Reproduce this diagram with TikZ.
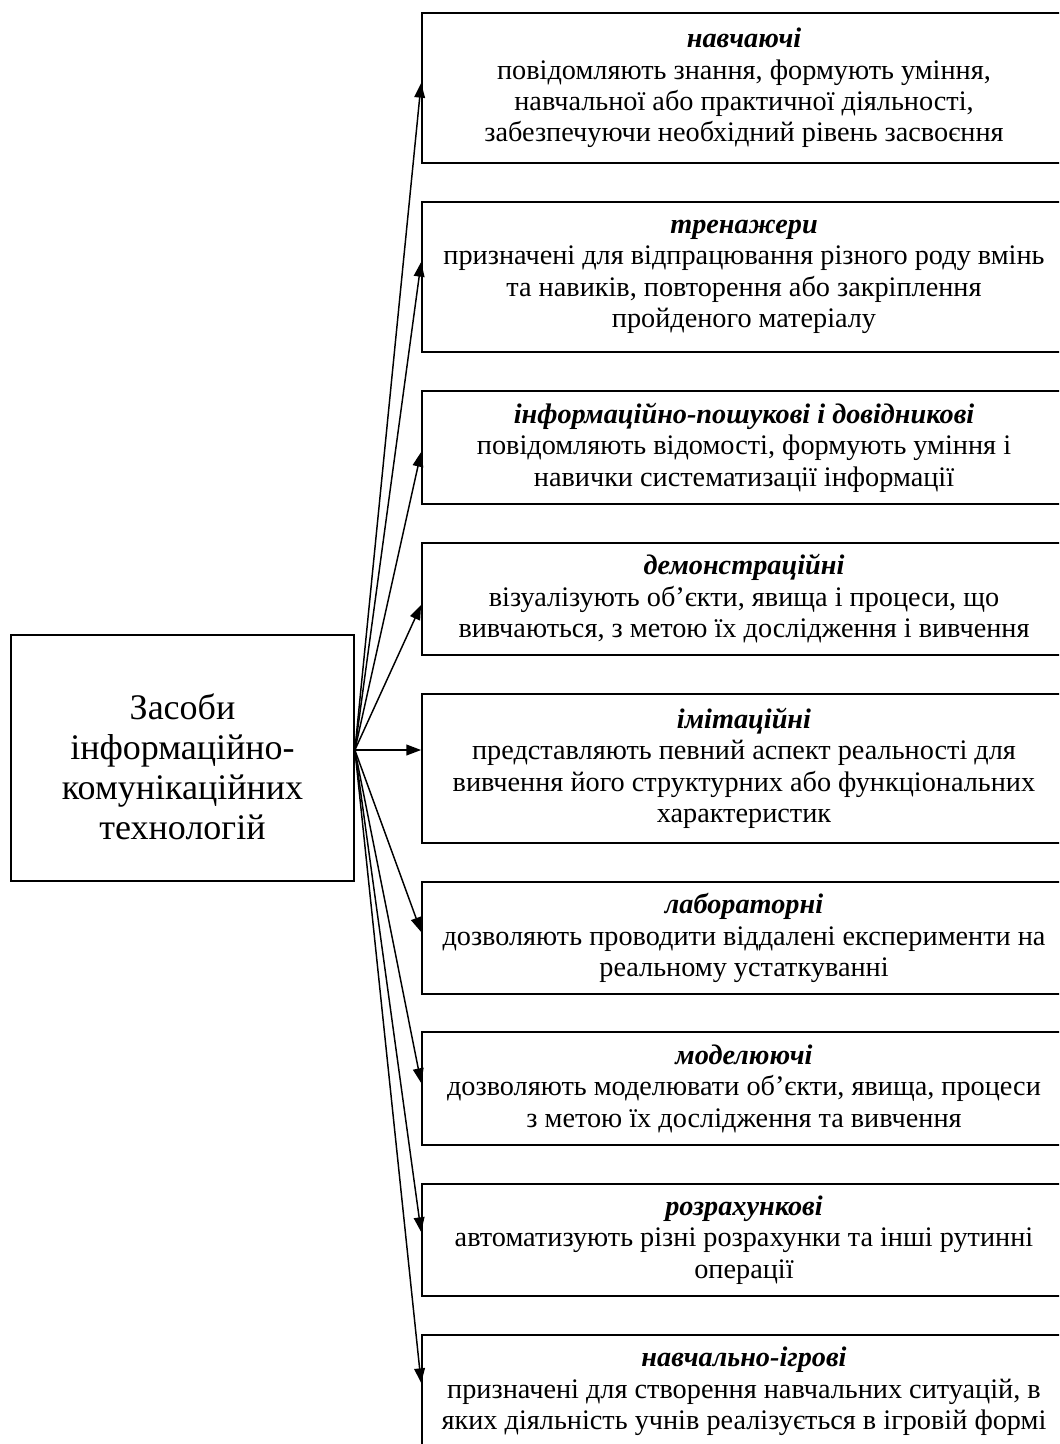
\documentclass[tikz,border=0pt]{standalone}
\usepackage{fontspec}
\setmainfont{Liberation Serif}
\usetikzlibrary{arrows.meta}
\begin{document}
\begin{tikzpicture}[x=0.75pt,y=-0.75pt,
  rbox/.style={draw, line width=1.3pt, minimum width=483pt, align=center, inner sep=0pt, font=\fontsize{21.2}{23.6}\selectfont},
  lbox/.style={draw, line width=1.3pt, minimum width=257.25pt, minimum height=184.5pt, inner sep=0pt},
  ltext/.style={align=center, inner sep=0pt, font=\fontsize{27}{30}\selectfont},
  conn/.style={-{Triangle[length=11pt,width=8pt]}, line width=1.1pt}]
\newcommand{\ttlx}[1]{{\bfseries\itshape #1}}
\useasboundingbox (0,0) rectangle (1059,1444);
\begin{scope}
\clip (0,0) rectangle (1059,1444);
\node[lbox] (L) at (182.5,758) {};
\node[ltext] (Lt) at (182.5,767) {Засоби\\інформаційно-\\комунікаційних\\технологій};
\node[rbox, minimum height=112.5pt] (b1) at (744,88) {\ttlx{навчаючі}\\повідомляють знання, формують уміння,\\навчальної або практичної діяльності,\\забезпечуючи необхідний рівень засвоєння};
\node[rbox, minimum height=112.5pt] (b2) at (744,277) {\ttlx{тренажери}\\призначені для відпрацювання різного роду вмінь\\та навиків, повторення або закріплення\\пройденого матеріалу};
\node[rbox, minimum height=84.75pt] (b3) at (744,447.5) {\ttlx{інформаційно-пошукові і довідникові}\\повідомляють відомості, формують уміння і\\навички систематизації інформації};
\node[rbox, minimum height=84pt] (b4) at (744,599) {\ttlx{демонстраційні}\\візуалізують об’єкти, явища і процеси, що\\вивчаються, з метою їх дослідження і вивчення};
\node[rbox, minimum height=111.75pt] (b5) at (744,768.5) {\ttlx{імітаційні}\\представляють певний аспект реальності для\\вивчення його структурних або функціональних\\характеристик};
\node[rbox, minimum height=84pt] (b6) at (744,938) {\ttlx{лабораторні}\\дозволяють проводити віддалені експерименти на\\реальному устаткуванні};
\node[rbox, minimum height=84.75pt] (b7) at (744,1088.5) {\ttlx{моделюючі}\\дозволяють моделювати об’єкти, явища, процеси\\з метою їх дослідження та вивчення};
\node[rbox, minimum height=84pt] (b8) at (744,1240) {\ttlx{розрахункові}\\автоматизують різні розрахунки та інші рутинні\\операції};
\node[rbox, minimum height=84.75pt] (b9) at (744,1391.5) {\ttlx{навчально-ігрові}\\призначені для створення навчальних ситуацій, в\\яких діяльність учнів реалізується в ігровій формі};
\coordinate (src) at (L.east |- 0,750);
\draw[conn] (src) -- (b1.west |- 0,83);
\draw[conn] (src) -- (b2.west |- 0,262);
\draw[conn] (src) -- (b3.west |- 0,452);
\draw[conn] (src) -- (b4.west |- 0,605);
\draw[conn] (src) -- (b5.west |- 0,750);
\draw[conn] (src) -- (b6.west |- 0,932);
\draw[conn] (src) -- (b7.west |- 0,1083);
\draw[conn] (src) -- (b8.west |- 0,1232);
\draw[conn] (src) -- (b9.west |- 0,1383);
\end{scope}
\end{tikzpicture}
\end{document}
